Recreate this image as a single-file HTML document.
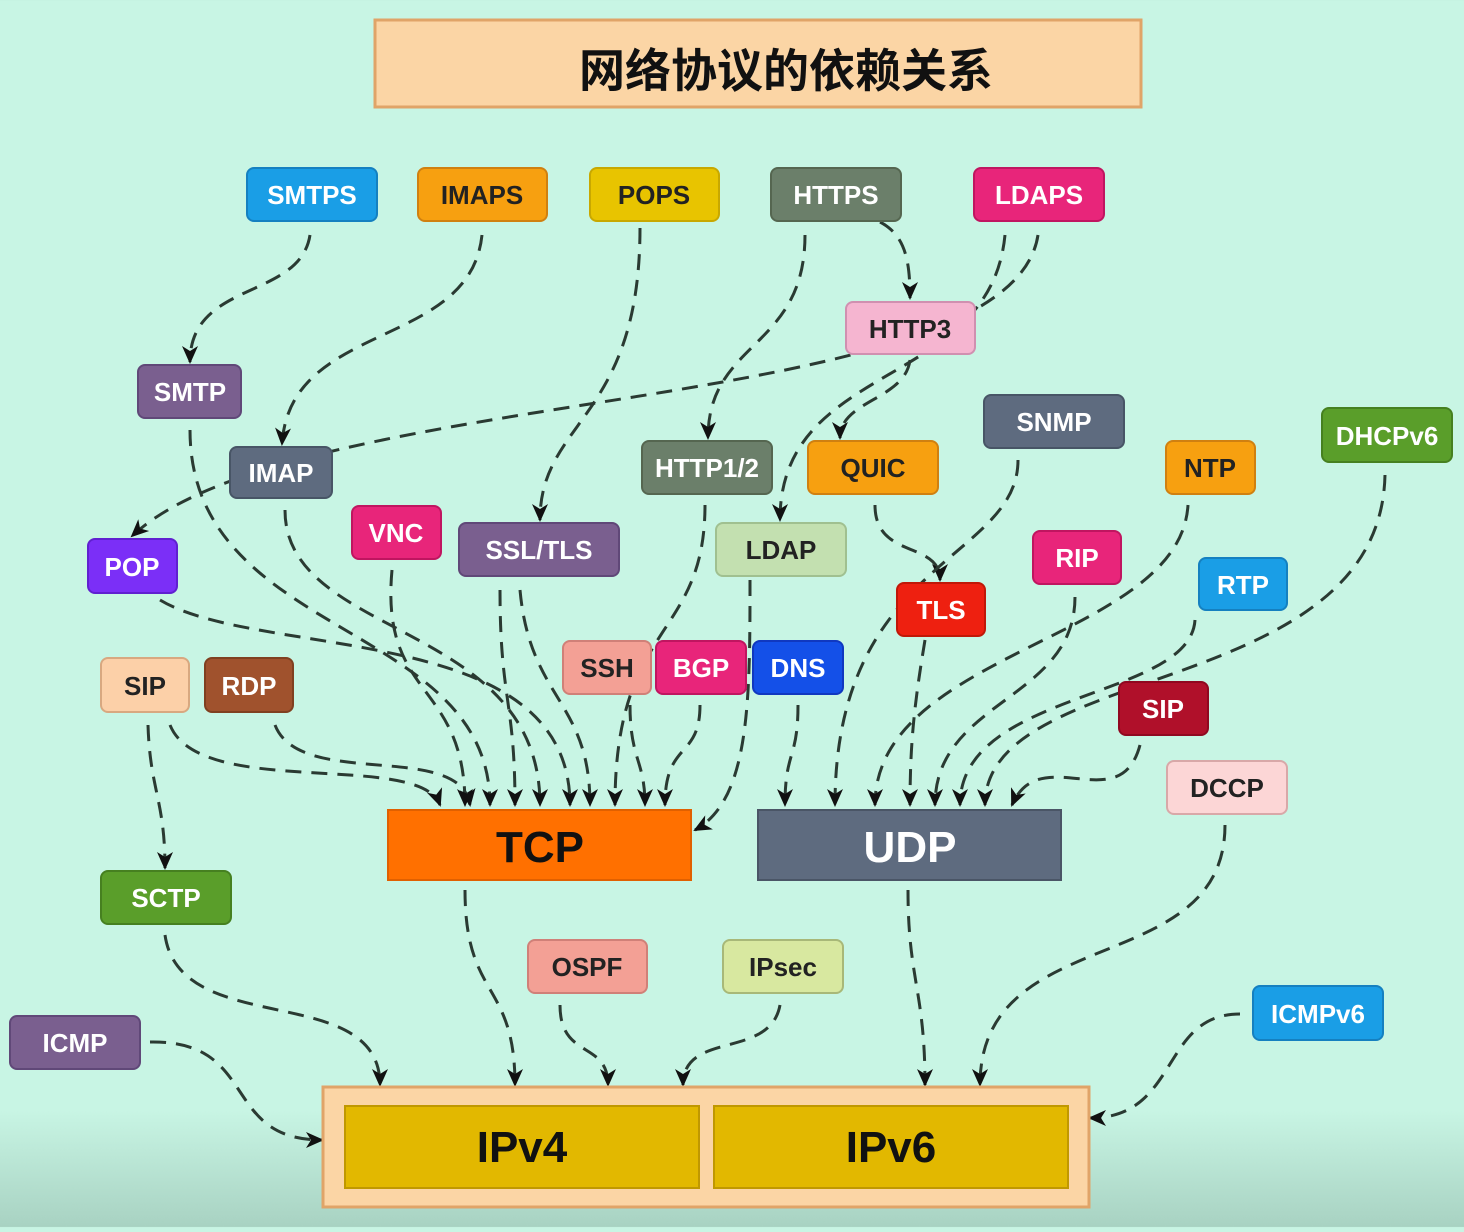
<!DOCTYPE html>
<html><head><meta charset="utf-8"><style>
html,body{margin:0;padding:0}
body{width:1464px;height:1227px;overflow:hidden;background:linear-gradient(to bottom,#c8f5e4 0,#c8f5e4 1110px,#a8d2c2 1227px);font-family:"Liberation Sans","Noto Sans CJK SC",sans-serif}
svg text{font-family:"Liberation Sans","Noto Sans CJK SC",sans-serif;font-weight:bold}
</style></head><body>
<svg width="1464" height="1227" viewBox="0 0 1464 1227" xmlns="http://www.w3.org/2000/svg">
<defs>
<marker id="a" markerWidth="18" markerHeight="18" refX="16" refY="9" orient="auto" markerUnits="userSpaceOnUse" viewBox="0 0 18 18"><path d="M0,1 L18,9 L0,17 L5,9 Z" fill="#111"/></marker>
</defs>
<rect x="375" y="20" width="766" height="87" fill="#fbd5a5" stroke="#e0a468" stroke-width="3"/>
<text x="786" y="87" font-size="46" text-anchor="middle" fill="#111">网络协议的依赖关系</text>

<g fill="none" stroke="#2a3a32" stroke-width="3" stroke-dasharray="16,10" marker-end="url(#a)">
<path d="M310,235 C300,300 190,280 190,362"/>
<path d="M482,235 C470,350 290,320 282,444"/>
<path d="M640,228 C640,420 540,420 540,520"/>
<path d="M805,235 C805,350 708,340 708,438"/>
<path d="M880,222 C905,235 910,260 910,298"/>
<path d="M1005,235 C990,390 780,360 780,520"/>
<path d="M1038,235 C1010,420 300,380 132,536"/>
<path d="M910,360 C905,400 840,400 840,438"/>
<path d="M190,430 C190,640 490,620 490,805"/>
<path d="M285,510 C285,640 540,620 540,805"/>
<path d="M160,600 C260,660 570,620 570,805"/>
<path d="M392,570 C380,700 465,680 465,805"/>
<path d="M500,590 C500,700 515,700 515,805"/>
<path d="M520,590 C530,700 590,700 590,805"/>
<path d="M705,505 C705,640 615,620 615,805"/>
<path d="M630,705 C630,760 645,760 645,805"/>
<path d="M700,705 C700,760 665,740 665,805"/>
<path d="M750,580 C750,700 750,800 695,830"/>
<path d="M170,725 C200,800 420,750 440,805"/>
<path d="M275,725 C300,790 460,740 470,805"/>
<path d="M148,725 C150,790 165,800 165,868"/>
<path d="M875,505 C875,560 940,540 940,580"/>
<path d="M1018,460 C1018,560 835,560 835,805"/>
<path d="M925,640 C915,700 910,740 910,805"/>
<path d="M798,705 C798,760 785,750 785,805"/>
<path d="M1188,505 C1180,640 875,650 875,805"/>
<path d="M1075,597 C1075,700 935,700 935,805"/>
<path d="M1195,620 C1190,700 960,690 960,805"/>
<path d="M1385,475 C1380,700 985,660 985,805"/>
<path d="M1140,745 C1120,820 1040,740 1012,805"/>
<path d="M1225,825 C1225,980 980,920 980,1085"/>
<path d="M908,890 C908,980 925,990 925,1085"/>
<path d="M465,890 C465,1000 515,980 515,1085"/>
<path d="M165,935 C180,1040 380,980 380,1085"/>
<path d="M560,1005 C560,1060 608,1040 608,1085"/>
<path d="M780,1005 C770,1060 683,1030 683,1085"/>
<path d="M150,1042 C260,1040 220,1140 322,1140"/>
<path d="M1240,1014 C1160,1014 1180,1118 1090,1118"/>
</g>

<g font-size="26" text-anchor="middle" stroke-width="2">
<rect x="247" y="168" width="130" height="53" rx="7" fill="#1a9ee6" stroke="#1580c0"/><text x="312" y="204" fill="#fff">SMTPS</text>
<rect x="418" y="168" width="129" height="53" rx="7" fill="#f7a010" stroke="#d08010"/><text x="482" y="204" fill="#222">IMAPS</text>
<rect x="590" y="168" width="129" height="53" rx="7" fill="#e8c400" stroke="#c8a800"/><text x="654" y="204" fill="#222">POPS</text>
<rect x="771" y="168" width="130" height="53" rx="7" fill="#6b7f6a" stroke="#556650"/><text x="836" y="204" fill="#fff">HTTPS</text>
<rect x="974" y="168" width="130" height="53" rx="7" fill="#e8257a" stroke="#c01560"/><text x="1039" y="204" fill="#fff">LDAPS</text>
<rect x="846" y="302" width="129" height="52" rx="7" fill="#f5b5d0" stroke="#d090b0"/><text x="910" y="338" fill="#222">HTTP3</text>
<rect x="138" y="365" width="103" height="53" rx="7" fill="#7a5f8f" stroke="#604878"/><text x="190" y="401" fill="#fff">SMTP</text>
<rect x="230" y="447" width="102" height="51" rx="7" fill="#5e6b7f" stroke="#485566"/><text x="281" y="482" fill="#fff">IMAP</text>
<rect x="642" y="441" width="130" height="53" rx="7" fill="#6b7f6a" stroke="#556650"/><text x="707" y="477" fill="#fff">HTTP1/2</text>
<rect x="808" y="441" width="130" height="53" rx="7" fill="#f7a010" stroke="#d08010"/><text x="873" y="477" fill="#222">QUIC</text>
<rect x="984" y="395" width="140" height="53" rx="7" fill="#5e6b7f" stroke="#485566"/><text x="1054" y="431" fill="#fff">SNMP</text>
<rect x="1166" y="441" width="89" height="53" rx="7" fill="#f7a010" stroke="#d08010"/><text x="1210" y="477" fill="#222">NTP</text>
<rect x="1322" y="408" width="130" height="54" rx="7" fill="#5a9e2a" stroke="#468020"/><text x="1387" y="445" fill="#fff">DHCPv6</text>
<rect x="352" y="506" width="89" height="53" rx="7" fill="#e8257a" stroke="#c01560"/><text x="396" y="542" fill="#fff">VNC</text>
<rect x="459" y="523" width="160" height="53" rx="7" fill="#7a5f8f" stroke="#604878"/><text x="539" y="559" fill="#fff">SSL/TLS</text>
<rect x="716" y="523" width="130" height="53" rx="7" fill="#c3e0b0" stroke="#a0c090"/><text x="781" y="559" fill="#222">LDAP</text>
<rect x="88" y="539" width="89" height="54" rx="7" fill="#7b2ff7" stroke="#6020d0"/><text x="132" y="576" fill="#fff">POP</text>
<rect x="1033" y="531" width="88" height="53" rx="7" fill="#e8257a" stroke="#c01560"/><text x="1077" y="567" fill="#fff">RIP</text>
<rect x="1199" y="558" width="88" height="52" rx="7" fill="#1a9ee6" stroke="#1580c0"/><text x="1243" y="594" fill="#fff">RTP</text>
<rect x="897" y="583" width="88" height="53" rx="7" fill="#ee2010" stroke="#c01808"/><text x="941" y="619" fill="#fff">TLS</text>
<rect x="563" y="641" width="88" height="53" rx="7" fill="#f3a095" stroke="#d08078"/><text x="607" y="677" fill="#222">SSH</text>
<rect x="656" y="641" width="90" height="53" rx="7" fill="#e8257a" stroke="#c01560"/><text x="701" y="677" fill="#fff">BGP</text>
<rect x="753" y="641" width="90" height="53" rx="7" fill="#1450e8" stroke="#1038c0"/><text x="798" y="677" fill="#fff">DNS</text>
<rect x="101" y="658" width="88" height="54" rx="7" fill="#fcd0a8" stroke="#d8a880"/><text x="145" y="695" fill="#222">SIP</text>
<rect x="205" y="658" width="88" height="54" rx="7" fill="#a0522d" stroke="#804020"/><text x="249" y="695" fill="#fff">RDP</text>
<rect x="1119" y="682" width="89" height="53" rx="7" fill="#b0102a" stroke="#900820"/><text x="1163" y="718" fill="#fff">SIP</text>
<rect x="1167" y="761" width="120" height="53" rx="7" fill="#fcd6d6" stroke="#d8a8a8"/><text x="1227" y="797" fill="#222">DCCP</text>
<rect x="101" y="871" width="130" height="53" rx="7" fill="#5a9e2a" stroke="#468020"/><text x="166" y="907" fill="#fff">SCTP</text>
<rect x="528" y="940" width="119" height="53" rx="7" fill="#f3a095" stroke="#d08078"/><text x="587" y="976" fill="#222">OSPF</text>
<rect x="723" y="940" width="120" height="53" rx="7" fill="#d8e8a0" stroke="#a8b878"/><text x="783" y="976" fill="#222">IPsec</text>
<rect x="10" y="1016" width="130" height="53" rx="7" fill="#7a5f8f" stroke="#604878"/><text x="75" y="1052" fill="#fff">ICMP</text>
<rect x="1253" y="986" width="130" height="54" rx="7" fill="#1a9ee6" stroke="#1580c0"/><text x="1318" y="1023" fill="#fff">ICMPv6</text>
</g>

<rect x="388" y="810" width="303" height="70" fill="#ff7000" stroke="#e06000" stroke-width="2"/>
<text x="540" y="862" font-size="44" text-anchor="middle" fill="#111">TCP</text>
<rect x="758" y="810" width="303" height="70" fill="#5e6b7f" stroke="#4a5566" stroke-width="2"/>
<text x="910" y="862" font-size="44" text-anchor="middle" fill="#fff">UDP</text>

<rect x="323" y="1087" width="766" height="120" fill="#fbd5a5" stroke="#e0a468" stroke-width="3"/>
<rect x="345" y="1106" width="354" height="82" fill="#e2b800" stroke="#c09800" stroke-width="2"/>
<rect x="714" y="1106" width="354" height="82" fill="#e2b800" stroke="#c09800" stroke-width="2"/>
<text x="522" y="1162" font-size="44" text-anchor="middle" fill="#111">IPv4</text>
<text x="891" y="1162" font-size="44" text-anchor="middle" fill="#111">IPv6</text>
</svg>
</body></html>
